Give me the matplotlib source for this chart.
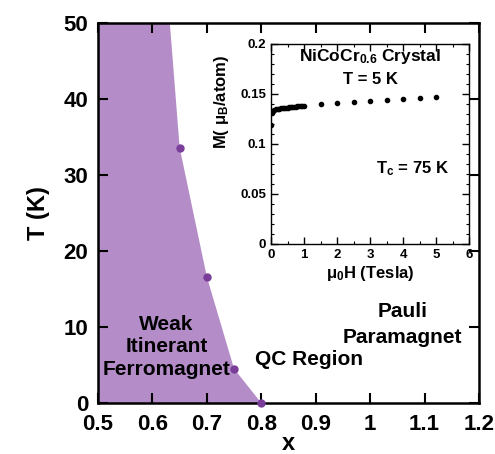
import matplotlib
matplotlib.use("Agg")
import matplotlib.pyplot as plt
import numpy as np

plt.rcParams['font.family'] = ['Liberation Sans', 'DejaVu Sans']
plt.rcParams['font.weight'] = 'bold'

# Phase boundary data
tc_x = [0.65, 0.70, 0.75, 0.80]
tc_T = [33.6, 16.6, 4.5, 0.0]
# boundary of shaded region (including top edge crossing)
bound_x = [0.632, 0.65, 0.70, 0.75, 0.80]
bound_T = [50.0, 33.6, 16.6, 4.5, 0.0]

# Inset M(H) data
H = [0.0, 0.02, 0.05, 0.1, 0.15, 0.2, 0.25, 0.3, 0.35, 0.4, 0.45, 0.5, 0.55, 0.6, 0.65,
     0.7, 0.75, 0.8, 0.85, 0.9, 0.95, 1.0, 1.5, 2.0, 2.5, 3.0, 3.5, 4.0, 4.5, 5.0]
M = [0.119, 0.131, 0.133, 0.134, 0.1345, 0.135, 0.1352, 0.1355, 0.1357, 0.136, 0.1362,
     0.1364, 0.1366, 0.1368, 0.137, 0.1372, 0.1374, 0.1376, 0.1377, 0.1378, 0.1379, 0.138,
     0.140, 0.141, 0.142, 0.143, 0.144, 0.145, 0.146, 0.147]

fig = plt.figure(figsize=(4.95, 4.54), dpi=100)
W, Hh = 495, 454
ax = fig.add_axes([98 / W, 1 - 403 / Hh, (479 - 98) / W, (403 - 23) / Hh])

fx = [0.5] + bound_x + [0.5]
fT = [50.0] + bound_T + [0.0]
ax.fill(fx, fT, color='#b48dc8', lw=0, zorder=1)
ax.plot(tc_x, tc_T, 'o', color='#7a3d9a', ms=5, zorder=3, clip_on=False)

ax.set_xlim(0.5, 1.2)
ax.set_ylim(0, 50)
ax.set_xticks(np.arange(0.5, 1.21, 0.1))
ax.set_xticklabels(['0.5', '0.6', '0.7', '0.8', '0.9', '1', '1.1', '1.2'])
ax.set_yticks([0, 10, 20, 30, 40, 50])
ax.tick_params(direction='in', top=True, right=True, length=7, width=1.5, labelsize=16)
ax.tick_params(axis='x', pad=8)
ax.tick_params(axis='y', pad=7)
for lab in ax.get_xticklabels() + ax.get_yticklabels():
    lab.set_fontweight('bold')
for s in ax.spines.values():
    s.set_linewidth(1.8)
ax.set_xlabel('x', fontsize=17, fontweight='bold', labelpad=-2)
ax.set_ylabel('T (K)', fontsize=17, fontweight='bold', labelpad=10)

ax.text(0.626, 7.4, 'Weak\nItinerant\nFerromagnet', ha='center', va='center',
        fontsize=15, fontweight='bold', linespacing=1.22)
ax.text(0.887, 5.7, 'QC Region', ha='center', va='center', fontsize=15, fontweight='bold')
ax.text(1.06, 10.3, 'Pauli\nParamagnet', ha='center', va='center', fontsize=15,
        fontweight='bold', linespacing=1.5)

# Inset
ins = fig.add_axes([271 / W, 1 - 244 / Hh, (469 - 271) / W, (244 - 44) / Hh])
ins.plot(H, M, 'o', color='black', ms=3)
ins.set_xlim(0, 6)
ins.set_ylim(0, 0.2)
ins.set_xticks([0, 1, 2, 3, 4, 5, 6])
ins.set_yticks([0, 0.05, 0.1, 0.15, 0.2])
ins.set_yticklabels(['0', '0.05', '0.1', '0.15', '0.2'])
ins.set_xticks(np.arange(0, 6.01, 0.5), minor=True)
ins.set_yticks(np.arange(0, 0.201, 0.01), minor=True)
ins.tick_params(which='both', direction='in', top=True, right=True, labelsize=9.5)
ins.tick_params(which='major', length=5, width=1)
ins.tick_params(which='minor', length=2.5, width=0.8)
for lab in ins.get_xticklabels() + ins.get_yticklabels():
    lab.set_fontweight('bold')
for s in ins.spines.values():
    s.set_linewidth(1.0)
ins.set_xlabel(r'$\mathregular{\mu_0}$H (Tesla)', fontsize=12, fontweight='bold', labelpad=2)
ins.set_ylabel(r'M( $\mathregular{\mu_B}$/atom)', fontsize=12, fontweight='bold')
ins.yaxis.set_label_coords(-0.2, 0.71)
ins.text(3.0, 0.188, r'NiCoCr$\mathregular{_{0.6}}$ Crystal', ha='center', va='center',
         fontsize=12.5, fontweight='bold')
ins.text(3.0, 0.164, 'T = 5 K', ha='center', va='center', fontsize=12, fontweight='bold')
ins.text(4.3, 0.075, r'T$\mathregular{_c}$ = 75 K', ha='center', va='center',
         fontsize=12, fontweight='bold')

fig.savefig('out.png', dpi=100)
